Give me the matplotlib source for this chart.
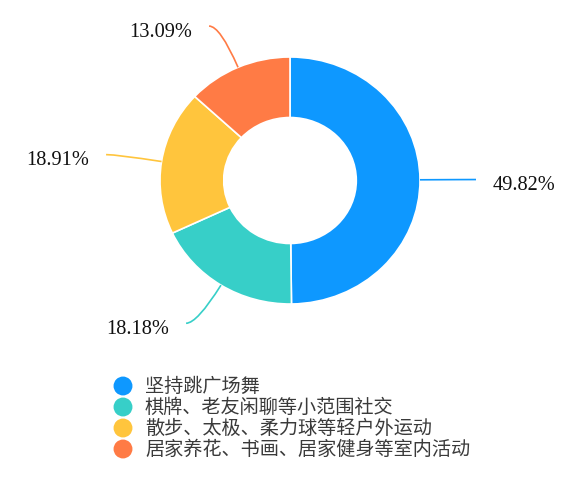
import numpy as np
import matplotlib
matplotlib.use("Agg")
import matplotlib.pyplot as plt
from matplotlib.path import Path
from matplotlib.patches import PathPatch

categories = ["坚持跳广场舞", "棋牌、老友闲聊等小范围社交",
              "散步、太极、柔力球等轻户外运动", "居家养花、书画、居家健身等室内活动"]
values = [49.82, 18.18, 18.91, 13.09]
labels = ["49.82%", "18.18%", "18.91%", "13.09%"]
colors = ["#0E98FF", "#37CFC8", "#FFC53D", "#FF7B45"]

W, H = 576, 478
cx, cy = 290, 180.5      # pie centre in pixels (y down)
rx, ry = 130, 123.5      # outer radii, slightly stretched horizontally

fig = plt.figure(figsize=(W / 100, H / 100), dpi=100)

# pie axes sized so that radius 1 spans rx/ry pixels
ax = fig.add_axes([(cx - rx) / W, (H - cy - ry) / H, 2 * rx / W, 2 * ry / H])
ax.pie(values, colors=colors, startangle=90, counterclock=False, radius=1,
       wedgeprops=dict(width=0.49, edgecolor="white", linewidth=1.2))
ax.set_aspect("auto")
ax.set_xlim(-1, 1)
ax.set_ylim(-1, 1)
ax.axis("off")

# overlay in pixel coordinates for leader lines, labels and legend
ov = fig.add_axes([0, 0, 1, 1])
ov.set_xlim(0, W)
ov.set_ylim(H, 0)
ov.axis("off")

total = sum(values)
cum = 0
L1, L2, gap = 45, 11, 17
for v, lab, c in zip(values, labels, colors):
    mid = np.deg2rad(90 - 360 * (cum + v / 2) / total)
    cum += v
    d = np.array([np.cos(mid), -np.sin(mid)])
    p0 = np.array([cx + rx * d[0], cy + ry * d[1]])
    p1 = p0 + L1 * d
    side = 1 if d[0] >= 0 else -1
    p2 = p1 + np.array([side * L2, 0])
    path = Path([p0, p1, p2], [Path.MOVETO, Path.CURVE3, Path.CURVE3])
    ov.add_patch(PathPatch(path, fill=False, edgecolor=c, linewidth=1.2))
    ov.text(p2[0] + side * gap, p2[1] + 6, lab, ha="left" if side > 0 else "right",
            va="center", fontsize=14.7, family="Liberation Serif", color="#111111")

# legend
for i, (name, c) in enumerate(zip(categories, colors)):
    y = 386 + 21 * i
    ov.scatter([123], [y], s=185, color=c, edgecolors="none")
    ov.text(145, y, name, ha="left", va="center", fontsize=13.8,
            family=["Noto Sans CJK SC", "DejaVu Sans"], color="#3a3a3a")

fig.savefig("out.png", dpi=100)
